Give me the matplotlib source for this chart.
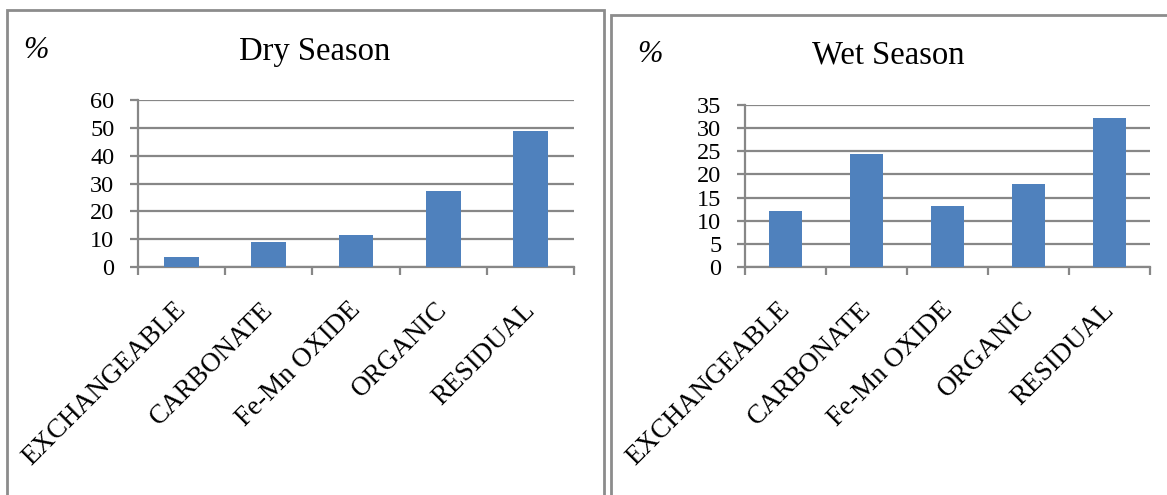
import matplotlib.pyplot as plt
import matplotlib.transforms as mtransforms
from matplotlib.patches import Rectangle

# fractions of the metal, %
categories = ["EXCHANGEABLE", "CARBONATE", "Fe-Mn OXIDE", "ORGANIC", "RESIDUAL"]
dry_values = [3.5, 8.9, 11.6, 27.4, 48.7]
wet_values = [12.2, 24.5, 13.1, 18.0, 32.2]
dry_ticks = [0, 10, 20, 30, 40, 50, 60]
wet_ticks = [0, 5, 10, 15, 20, 25, 30, 35]

BAR_COLOR = "#4F81BD"
GRID_COLOR = "#878787"
W, H = 1167, 495

plt.rcParams['font.family'] = ['Liberation Serif', 'DejaVu Serif']

fig = plt.figure(figsize=(W / 100, H / 100), dpi=100)


def px_rect(x0, y0, x1, y1):
    """Axes rect in figure fraction from pixel box (y from top)."""
    return [x0 / W, 1 - y1 / H, (x1 - x0) / W, (y1 - y0) / H]


def draw_panel(rect, values, ticks, title, title_xy, pct_xy, ypad):
    ax = fig.add_axes(rect)
    x = list(range(len(values)))
    ax.bar(x, values, width=0.4, color=BAR_COLOR, zorder=3)
    ax.set_xlim(-0.5, len(values) - 0.5)
    ax.set_ylim(ticks[0], ticks[-1])
    ax.set_yticks(ticks)
    ax.yaxis.grid(True, color=GRID_COLOR, linewidth=1.6, zorder=1)
    ax.set_axisbelow(True)
    for s in ("top", "right"):
        ax.spines[s].set_visible(False)
    for s in ("left", "bottom"):
        ax.spines[s].set_color(GRID_COLOR)
        ax.spines[s].set_linewidth(1.6)
    ax.tick_params(axis="y", length=6, width=1.6, color=GRID_COLOR,
                   labelsize=17.5, pad=ypad)

    # category ticks sit between the bars
    ax.set_xticks([i - 0.5 for i in range(len(values) + 1)], minor=True)
    ax.tick_params(axis="x", which="minor", length=6, width=1.6, color=GRID_COLOR)
    ax.set_xticks(x)
    ax.set_xticklabels(categories, rotation=45, ha="right", va="top",
                       rotation_mode="anchor", fontsize=19.5)
    ax.tick_params(axis="x", which="major", length=0, pad=22)
    shift = mtransforms.ScaledTranslation(-8 / 100, 0, fig.dpi_scale_trans)
    for lab in ax.get_xticklabels():
        lab.set_transform(lab.get_transform() + shift)

    fig.text(title_xy[0] / W, 1 - title_xy[1] / H, title, fontsize=23.5,
             ha="center", va="center")
    fig.text(pct_xy[0] / W, 1 - pct_xy[1] / H, "%", fontsize=22,
             style="italic", ha="center", va="center")
    return ax


# panel frames
fig.add_artist(Rectangle((7 / W, -0.1), (604 - 7) / W, 1.1 - 10 / H,
                         transform=fig.transFigure, fill=False,
                         edgecolor="#8c8c8c", linewidth=2))
fig.add_artist(Rectangle((611 / W, -0.1), 600 / W, 1.1 - 15 / H,
                         transform=fig.transFigure, fill=False,
                         edgecolor="#8c8c8c", linewidth=2))

draw_panel(px_rect(138, 100, 574, 267), dry_values, dry_ticks,
           "Dry Season", (315, 52), (36, 51), 11)
draw_panel(px_rect(745, 105, 1150, 267), wet_values, wet_ticks,
           "Wet Season", (888, 55), (650, 54), 11)

fig.savefig("out.png", dpi=100)
